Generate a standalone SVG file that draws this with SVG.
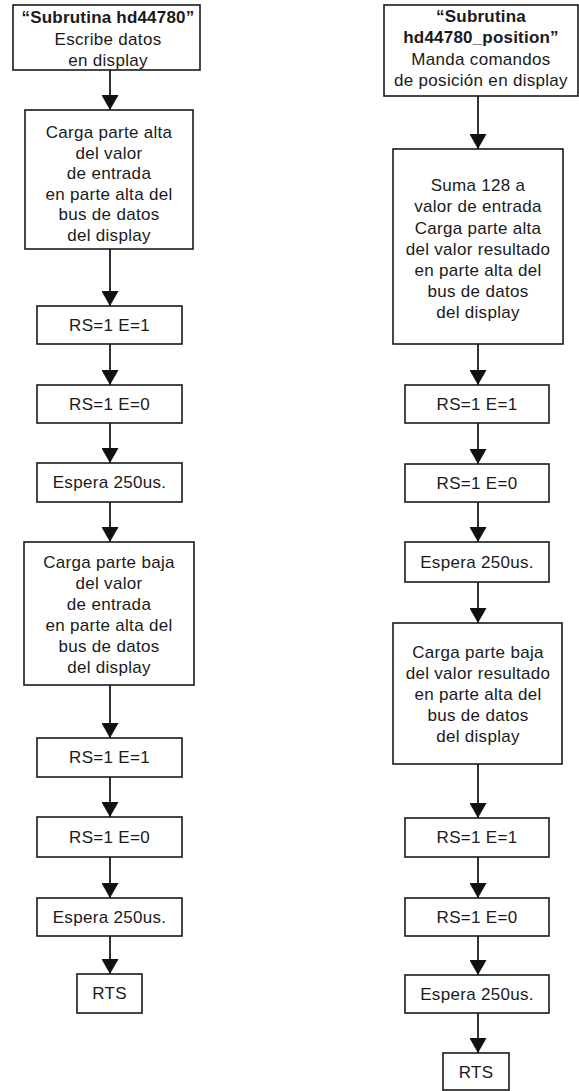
<svg xmlns="http://www.w3.org/2000/svg" width="579" height="1091" viewBox="0 0 579 1091">
<style>
.box{fill:#fff;stroke:#1a1a1a;stroke-width:1.6}
.t{font-family:"Liberation Sans",Arial,sans-serif;font-size:17px;fill:#1a1a1a;text-anchor:middle;letter-spacing:0.3px}
.b{font-weight:bold;letter-spacing:0.2px}
.c{stroke:#1a1a1a;stroke-width:1.8;fill:none;marker-end:url(#ah)}
</style>
<defs>
<marker id="ah" markerUnits="userSpaceOnUse" markerWidth="16" markerHeight="17" refX="15" refY="8.5" orient="auto" viewBox="0 0 15 17">
<path d="M0,0 L15,8.5 L0,17 z" fill="#111"/>
</marker>
</defs>
<rect width="579" height="1091" fill="#fff"/>
<g id="connectors">
<line class="c" x1="110" y1="70" x2="110" y2="110"/>
<line class="c" x1="110" y1="249" x2="110" y2="306"/>
<line class="c" x1="110" y1="344" x2="110" y2="385"/>
<line class="c" x1="110" y1="423" x2="110" y2="463"/>
<line class="c" x1="110" y1="502" x2="110" y2="542"/>
<line class="c" x1="110" y1="685" x2="110" y2="738"/>
<line class="c" x1="110" y1="777" x2="110" y2="817"/>
<line class="c" x1="110" y1="857" x2="110" y2="898"/>
<line class="c" x1="110" y1="936" x2="110" y2="974"/>
<line class="c" x1="478" y1="96" x2="478" y2="149"/>
<line class="c" x1="478" y1="344" x2="478" y2="385"/>
<line class="c" x1="478" y1="423" x2="478" y2="464"/>
<line class="c" x1="478" y1="502" x2="478" y2="542"/>
<line class="c" x1="478" y1="582" x2="478" y2="623"/>
<line class="c" x1="478" y1="764" x2="478" y2="818"/>
<line class="c" x1="478" y1="857" x2="478" y2="898"/>
<line class="c" x1="478" y1="936" x2="478" y2="975"/>
<line class="c" x1="478" y1="1013" x2="478" y2="1053"/>
</g>
<g id="L1"><rect class="box" x="13" y="5" width="187" height="65"/>
<text class="t b" x="108" y="23">“Subrutina hd44780”</text>
<text class="t" x="108" y="45">Escribe datos</text>
<text class="t" x="108" y="66">en display</text></g>
<g id="L2"><rect class="box" x="25" y="110" width="168" height="139"/>
<text class="t" x="109" y="138">Carga parte alta</text>
<text class="t" x="109" y="158.5">del valor</text>
<text class="t" x="109" y="179">de entrada</text>
<text class="t" x="109" y="199.5">en parte alta del</text>
<text class="t" x="109" y="220">bus de datos</text>
<text class="t" x="109" y="240.5">del display</text></g>
<g id="L3"><rect class="box" x="37" y="306" width="145" height="38"/>
<text class="t" x="109.5" y="331">RS=1 E=1</text></g>
<g id="L4"><rect class="box" x="37" y="385" width="145" height="38"/>
<text class="t" x="109.5" y="410">RS=1 E=0</text></g>
<g id="L5"><rect class="box" x="37" y="463" width="145" height="39"/>
<text class="t" x="109.5" y="488">Espera 250us.</text></g>
<g id="L6"><rect class="box" x="24" y="542" width="170" height="143"/>
<text class="t" x="109" y="568">Carga parte baja</text>
<text class="t" x="109" y="589">del valor</text>
<text class="t" x="109" y="610">de entrada</text>
<text class="t" x="109" y="631">en parte alta del</text>
<text class="t" x="109" y="652">bus de datos</text>
<text class="t" x="109" y="673">del display</text></g>
<g id="L7"><rect class="box" x="37" y="738" width="145" height="39"/>
<text class="t" x="109.5" y="763">RS=1 E=1</text></g>
<g id="L8"><rect class="box" x="37" y="817" width="145" height="40"/>
<text class="t" x="109.5" y="843">RS=1 E=0</text></g>
<g id="L9"><rect class="box" x="37" y="898" width="145" height="38"/>
<text class="t" x="109.5" y="923">Espera 250us.</text></g>
<g id="L10"><rect class="box" x="77" y="974" width="65" height="39"/>
<text class="t" x="109.5" y="999">RTS</text></g>
<g id="R1"><rect class="box" x="384" y="5" width="194" height="91"/>
<text class="t b" x="481" y="22">“Subrutina</text>
<text class="t b" x="481" y="43">hd44780_position”</text>
<text class="t" x="481" y="65">Manda comandos</text>
<text class="t" x="481" y="86">de posición en display</text></g>
<g id="R2"><rect class="box" x="393" y="149" width="170" height="195"/>
<text class="t" x="478" y="191">Suma 128 a</text>
<text class="t" x="478" y="212">valor de entrada</text>
<text class="t" x="478" y="233.5">Carga parte alta</text>
<text class="t" x="478" y="255">del valor resultado</text>
<text class="t" x="478" y="276">en parte alta del</text>
<text class="t" x="478" y="297">bus de datos</text>
<text class="t" x="478" y="318">del display</text></g>
<g id="R3"><rect class="box" x="405" y="385" width="144" height="38"/>
<text class="t" x="477" y="410">RS=1 E=1</text></g>
<g id="R4"><rect class="box" x="405" y="464" width="144" height="38"/>
<text class="t" x="477" y="489">RS=1 E=0</text></g>
<g id="R5"><rect class="box" x="405" y="542" width="144" height="40"/>
<text class="t" x="477" y="568">Espera 250us.</text></g>
<g id="R6"><rect class="box" x="393" y="623" width="169" height="141"/>
<text class="t" x="478" y="658">Carga parte baja</text>
<text class="t" x="478" y="679">del valor resultado</text>
<text class="t" x="478" y="700">en parte alta del</text>
<text class="t" x="478" y="721">bus de datos</text>
<text class="t" x="478" y="742">del display</text></g>
<g id="R7"><rect class="box" x="405" y="818" width="144" height="39"/>
<text class="t" x="477" y="843">RS=1 E=1</text></g>
<g id="R8"><rect class="box" x="405" y="898" width="144" height="38"/>
<text class="t" x="477" y="923">RS=1 E=0</text></g>
<g id="R9"><rect class="box" x="405" y="975" width="144" height="38"/>
<text class="t" x="477" y="1000">Espera 250us.</text></g>
<g id="R10"><rect class="box" x="443" y="1053" width="66" height="37"/>
<text class="t" x="476" y="1078">RTS</text></g>
</svg>
